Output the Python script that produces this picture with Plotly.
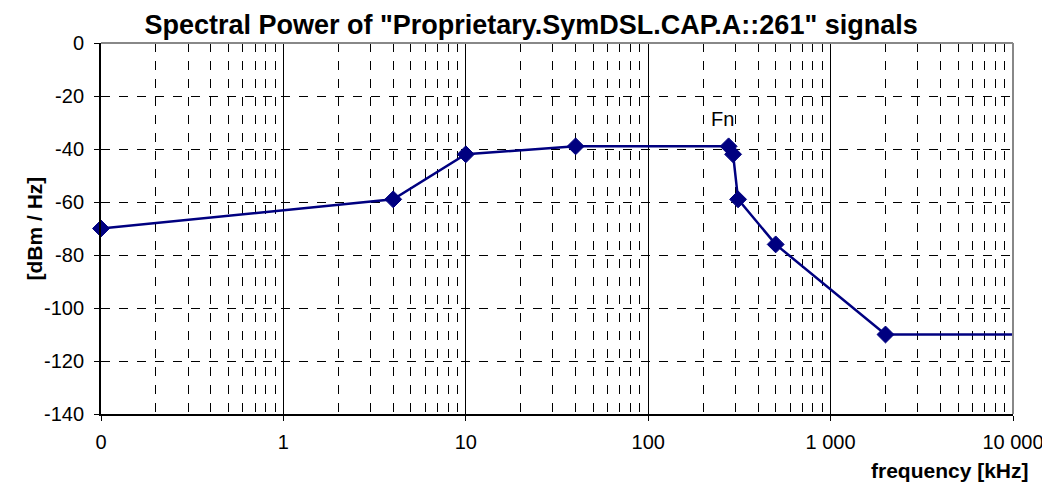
import math
import plotly.graph_objects as go

freq_khz = [0.1, 4, 10, 40, 276, 292, 311, 500, 2000, 10000]
power_dbm_hz = [-70, -59, -42, -39, -39, -42, -59, -76, -110, -110]
marker_sizes = [13, 13, 13, 13, 13, 13, 13, 13, 13, 0]

x_tick_vals = [0.1, 1, 10, 100, 1000, 10000]
x_tick_text = ["0", "1", "10", "100", "1 000", "10 000"]
y_tick_vals = [0, -20, -40, -60, -80, -100, -120, -140]
y_tick_text = [str(v) for v in y_tick_vals]

minor_vals = [m * d for d in [0.1, 1, 10, 100, 1000] for m in range(2, 10)]

FONT = "Liberation Sans, Arial, sans-serif"
NAVY = "#000080"

fig = go.Figure()
fig.add_trace(go.Scatter(
    x=freq_khz, y=power_dbm_hz, mode="lines+markers",
    line=dict(color=NAVY, width=2.5),
    marker=dict(symbol="diamond", size=marker_sizes, color=NAVY, opacity=1,
                line=dict(width=1, color=NAVY)),
    showlegend=False, cliponaxis=False,
))

fig.update_layout(
    width=1042, height=474,
    margin=dict(l=93, r=37, t=35, b=68),
    paper_bgcolor="white", plot_bgcolor="white",
    font=dict(family=FONT, size=20, color="black"),
    title=dict(text='<b>Spectral Power of "Proprietary.SymDSL.CAP.A::261" signals</b>',
               x=0.502, xanchor="center", y=0.966, yanchor="middle",
               font=dict(size=27, family=FONT, color="black")),
    xaxis=dict(
        type="log", range=[-1, 4], automargin=False,
        tickmode="array", tickvals=x_tick_vals, ticktext=x_tick_text,
        showgrid=True, gridcolor="black", gridwidth=1,
        ticks="outside", ticklen=5, tickcolor="black",
        showline=True, linecolor="black", linewidth=1.5,
        ticklabelstandoff=4,
        minor=dict(tickmode="array", tickvals=minor_vals, showgrid=True,
                   gridcolor="black", gridwidth=1, griddash="dash", ticks=""),
        zeroline=False,
    ),
    yaxis=dict(
        range=[-140, 0], automargin=False,
        tickmode="array", tickvals=y_tick_vals, ticktext=y_tick_text,
        showgrid=True, gridcolor="black", gridwidth=1, griddash="dash",
        ticks="outside", ticklen=5, tickcolor="black",
        showline=True, linecolor="black", linewidth=2,
        ticklabelstandoff=6,
        zeroline=False,
    ),
)

fig.add_shape(type="line", xref="paper", yref="paper", x0=0, x1=1, y0=1, y1=1,
              line=dict(color="#888888", width=2))
fig.add_shape(type="line", xref="paper", yref="paper", x0=1, x1=1, y0=0, y1=1,
              line=dict(color="#888888", width=2))

fig.add_annotation(text="Fn", x=math.log10(254), y=-28.5, xref="x", yref="y",
                   showarrow=False, font=dict(size=20, family=FONT))
fig.add_annotation(text="<b>[dBm / Hz]</b>", xref="paper", yref="paper",
                   x=-0.0724, y=0.5, textangle=-90, showarrow=False,
                   xanchor="center", yanchor="middle", font=dict(size=21, family=FONT))
fig.add_annotation(text="<b>frequency [kHz]</b>", xref="paper", yref="paper",
                   x=1.0197, y=-0.151, xanchor="right", yanchor="middle",
                   showarrow=False, font=dict(size=21, family=FONT))

fig.write_html("out.html")
